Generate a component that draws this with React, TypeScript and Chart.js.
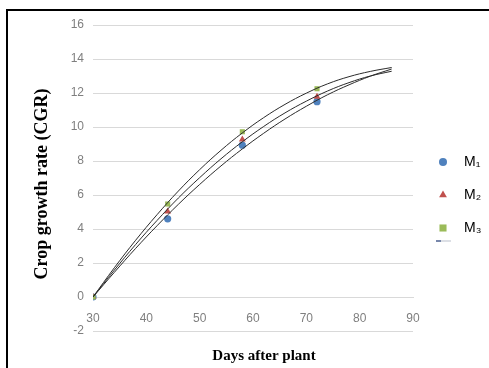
import React, { useEffect, useRef } from 'react';
import { Chart, registerables } from 'chart.js';
import { drawPoint } from 'chart.js/helpers';

Chart.register(...registerables);

// ---- data ----
const DAYS = [30, 44, 58, 72];
const M1_VALUES = [0, 4.6, 8.93, 11.49];
const M2_VALUES = [0, 5.03, 9.26, 11.78];
const M3_VALUES = [0, 5.47, 9.72, 12.25];
const SERIES_LABELS = ['M\u2081', 'M\u2082', 'M\u2083'];
const SERIES_COLORS = ['#4F81BD', '#C0504D', '#9BBB59'];
const SERIES_STYLES = ['circle', 'triangle', 'rect'];

// trend curves
const TREND_DAYS = [30, 34, 38, 42, 46, 50, 54, 58, 62, 66, 70, 74, 78, 82, 86];
const TREND_M1 = [0, 1.45, 2.86, 4.19, 5.45, 6.62, 7.71, 8.71, 9.63, 10.47, 11.22, 11.9, 12.48, 12.99, 13.41];
const TREND_M2 = [0, 1.58, 3.09, 4.5, 5.82, 7.02, 8.13, 9.13, 10.03, 10.83, 11.52, 12.12, 12.61, 13.0, 13.28];
const TREND_M3 = [0, 1.72, 3.34, 4.84, 6.23, 7.49, 8.63, 9.65, 10.55, 11.33, 11.99, 12.54, 12.96, 13.27, 13.5];

const X_MIN = 30;
const X_MAX = 90;
const X_STEP = 10;
const Y_MIN = -2;
const Y_MAX = 16;
const Y_STEP = 2;

const X_TITLE = 'Days after plant';
const Y_TITLE = 'Crop growth rate (CGR)';

const pts = (xs: number[], ys: number[]) => xs.map((x, i) => ({ x, y: ys[i] }));

const textPlugin = {
  id: 'customText',
  afterDraw(chart: any) {
    const { ctx, chartArea } = chart;
    ctx.save();
    ctx.fillStyle = '#000';
    // y title
    ctx.font = 'bold 18px "Liberation Serif", "Times New Roman", serif';
    ctx.textAlign = 'center';
    ctx.textBaseline = 'middle';
    ctx.save();
    ctx.translate(chartArea.left - 51, 184);
    ctx.rotate(-Math.PI / 2);
    ctx.fillText(Y_TITLE, 0, 0);
    ctx.restore();
    // x title
    ctx.font = 'bold 15px "Liberation Serif", "Times New Roman", serif';
    ctx.fillText(X_TITLE, (chartArea.left + chartArea.right) / 2 + 11, chartArea.bottom + 25);
    // legend
    const lx = chartArea.right + 30;
    const radii = [4, 4.5, 5];
    for (let i = 0; i < 3; i++) {
      const y = 162 + 33 * i;
      ctx.fillStyle = SERIES_COLORS[i];
      drawPoint(ctx, { pointStyle: SERIES_STYLES[i], radius: radii[i], rotation: 0, borderWidth: 0 } as any, lx, y);
      ctx.fillStyle = '#000';
      ctx.font = '14px "Liberation Sans", "DejaVu Sans", sans-serif';
      ctx.textAlign = 'left';
      ctx.fillText(SERIES_LABELS[i], lx + 21, y);
    }
    // small trendline key fragment
    ctx.lineWidth = 1.5;
    ctx.strokeStyle = '#4a5f8f';
    ctx.beginPath();
    ctx.moveTo(lx - 7, 241);
    ctx.lineTo(lx - 2, 241);
    ctx.stroke();
    ctx.strokeStyle = '#d0d4dc';
    ctx.beginPath();
    ctx.moveTo(lx - 2, 241);
    ctx.lineTo(lx + 8, 241);
    ctx.stroke();
    ctx.restore();
  },
};

export default function App() {
  const ref = useRef<HTMLCanvasElement>(null);
  useEffect(() => {
    const pointSets = [M1_VALUES, M2_VALUES, M3_VALUES].map((vals, i) => ({
      type: 'scatter' as const,
      label: SERIES_LABELS[i],
      data: pts(DAYS, vals),
      pointStyle: SERIES_STYLES[i],
      pointRadius: i === 1 ? 4 : 3.6,
      pointBackgroundColor: SERIES_COLORS[i],
      pointBorderWidth: 0,
      showLine: false,
      order: 4 - i,
    }));
    const trendSets = [TREND_M1, TREND_M2, TREND_M3].map((vals, i) => ({
      type: 'line' as const,
      label: 'trend ' + SERIES_LABELS[i],
      data: pts(TREND_DAYS, vals),
      borderColor: '#2b2b2b',
      borderWidth: 1,
      pointRadius: 0,
      fill: false,
      tension: 0.4,
      showLine: true,
      order: 1,
    }));
    const chart = new Chart(ref.current!, {
      type: 'scatter',
      data: { datasets: [...pointSets, ...trendSets] as any },
      options: {
        animation: false,
        responsive: false,
        devicePixelRatio: 1,
        layout: { padding: { left: 0, right: 76, top: 25, bottom: 37 } },
        plugins: { legend: { display: false }, tooltip: { enabled: false } },
        scales: {
          x: {
            type: 'linear',
            position: { y: 0 } as any,
            min: X_MIN,
            max: X_MAX,
            ticks: {
              stepSize: X_STEP,
              padding: 14,
              color: '#7f7f7f',
              font: { family: '"Liberation Sans", Arial, sans-serif', size: 12 },
            },
            grid: { display: false, drawTicks: false },
            border: { display: true, color: '#d9d9d9', width: 1 },
          },
          y: {
            type: 'linear',
            min: Y_MIN,
            max: Y_MAX,
            afterFit: (scale: any) => {
              scale.width = 93;
            },
            ticks: {
              stepSize: Y_STEP,
              padding: 9,
              color: '#7f7f7f',
              font: { family: '"Liberation Sans", Arial, sans-serif', size: 12 },
            },
            grid: { color: '#d9d9d9', lineWidth: 1, drawTicks: false },
            border: { display: false },
          },
        },
      },
      plugins: [textPlugin],
    });
    return () => chart.destroy();
  }, []);
  return (
    <div style={{ position: 'fixed', left: 0, top: 0, width: 489, height: 368, background: '#fff', overflow: 'hidden' }}>
      <div
        style={{
          position: 'absolute',
          left: 6,
          top: 9,
          width: 520,
          height: 420,
          borderTop: '2px solid #000',
          borderLeft: '2px solid #000',
        }}
      />
      <canvas ref={ref} width={489} height={368} style={{ position: 'absolute', left: 0, top: 0, width: 489, height: 368 }} />
    </div>
  );
}
